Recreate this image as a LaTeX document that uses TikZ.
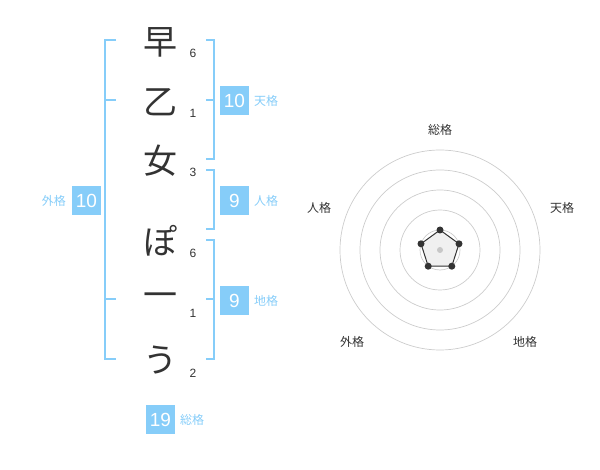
\documentclass[tikz,border=0pt]{standalone}
\usepackage{fontspec}
\setmainfont{Liberation Sans}
\newfontfamily\jp{Noto Sans CJK JP}
\definecolor{sky}{HTML}{86CDF9}
\definecolor{ink}{HTML}{333333}
\definecolor{ring}{HTML}{CCCCCC}
\begin{document}
\begin{tikzpicture}[x=1pt,y=-1pt,
  glyph/.style={font=\jp\fontsize{34}{34}\selectfont, text=ink, inner sep=0pt},
  strokes/.style={font=\fontsize{12}{12}\selectfont, text=ink, inner sep=0pt},
  numbox/.style={fill=sky, text=white, minimum width=29pt, minimum height=29pt, inner sep=0pt, font=\fontsize{19}{19}\selectfont},
  kaku/.style={font=\jp\fontsize{12}{12}\selectfont, text=sky, inner sep=0pt},
  radlabel/.style={font=\jp\fontsize{12}{12}\selectfont, text=ink, inner sep=0pt},
  bracket/.style={draw=sky, line width=1.6pt},
  ringline/.style={draw=ring, line width=0.7pt},
  vdot/.style={circle, fill=ink, inner sep=0pt, minimum size=7pt}
]
\useasboundingbox (0,0) rectangle (600,470);

% name characters
\node[glyph] (c1) at (160,42) {早};
\node[glyph] (c2) at (160,102) {乙};
\node[glyph] (c3) at (160,161) {女};
\node[glyph] (c4) at (160,241) {ぽ};
\node[glyph] (c5) at (160,300) {一};
\node[glyph] (c6) at (160,360) {う};

% stroke counts
\node[strokes] (s1) at (193,53) {6};
\node[strokes] (s2) at (193,113) {1};
\node[strokes] (s3) at (193,172) {3};
\node[strokes] (s4) at (193,253) {6};
\node[strokes] (s5) at (193,313) {1};
\node[strokes] (s6) at (193,373) {2};

% left bracket (gaikaku)
\draw[bracket] (116,40) -- (105,40) -- (105,359) -- (116,359);
\draw[bracket] (105,100) -- (116,100);
\draw[bracket] (105,299) -- (116,299);

% right brackets
\draw[bracket] (206,40) -- (214,40) -- (214,159) -- (206,159);
\draw[bracket] (214,100) -- (206,100);
\draw[bracket] (206,170) -- (214,170) -- (214,229) -- (206,229);
\draw[bracket] (206,240) -- (214,240) -- (214,359) -- (206,359);
\draw[bracket] (214,299) -- (206,299);

% boxes
\node[numbox] (ten) at (234.5,100.5) {10};
\node[kaku, anchor=west] (tenl) at (254,100.5) {天格};
\node[numbox] (jin) at (234.5,200.5) {9};
\node[kaku, anchor=west] (jinl) at (254,200.5) {人格};
\node[numbox] (chi) at (234.5,300.5) {9};
\node[kaku, anchor=west] (chil) at (254,300.5) {地格};
\node[numbox] (gai) at (86.5,200.5) {10};
\node[kaku, anchor=east] (gail) at (66,200.5) {外格};
\node[numbox] (sou) at (160.5,419.5) {19};
\node[kaku, anchor=west] (soul) at (180,419.5) {総格};

% radar chart
\coordinate (ctr) at (440,250);
\foreach \r in {20,40,60,80,100}{
  \draw[ringline] (ctr) circle[radius=\r];
}
\coordinate (p1) at (440,230);
\coordinate (p2) at (459.0,243.8);
\coordinate (p3) at (451.8,266.2);
\coordinate (p4) at (428.2,266.2);
\coordinate (p5) at (421.0,243.8);
\draw[fill=black!6, draw=ink, line width=1pt] (p1) -- (p2) -- (p3) -- (p4) -- (p5) -- cycle;
\node[circle, fill=black!22, inner sep=0pt, minimum size=6pt] (cdot) at (ctr) {};
\foreach \p in {p1,p2,p3,p4,p5}{
  \node[vdot] at (\p) {};
}

\node[radlabel] (rs) at (440,130) {総格};
\node[radlabel] (rt) at (562,208) {天格};
\node[radlabel] (rc) at (525,342) {地格};
\node[radlabel] (rg) at (352,342) {外格};
\node[radlabel] (rj) at (319,208) {人格};
\end{tikzpicture}
\end{document}
